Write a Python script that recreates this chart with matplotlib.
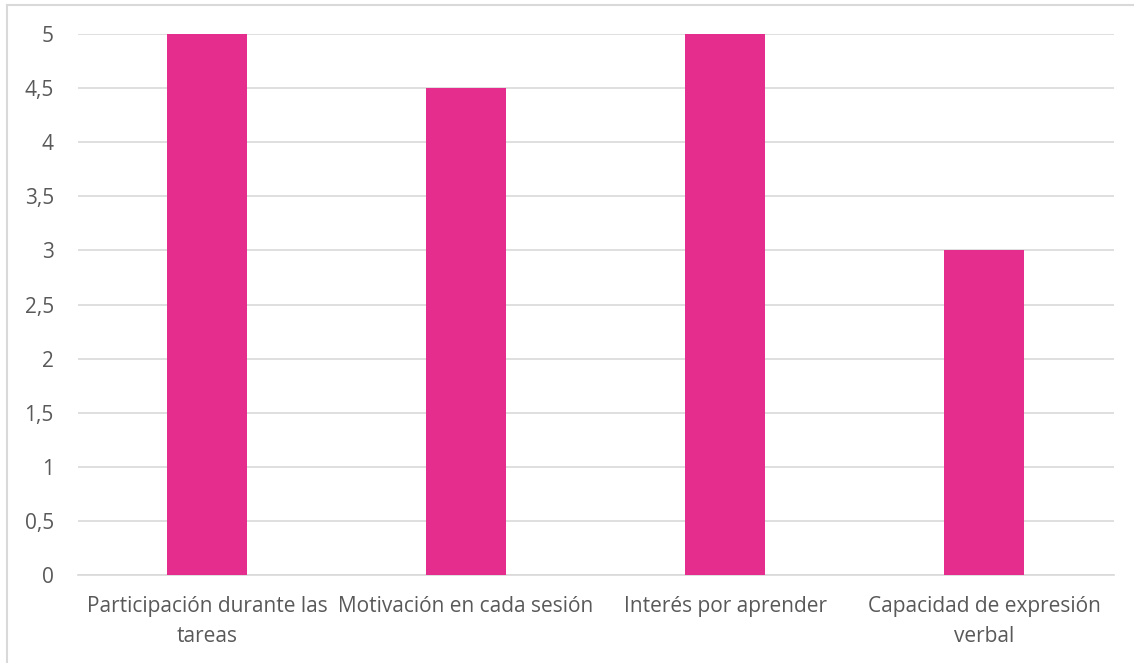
import matplotlib.pyplot as plt
from matplotlib.lines import Line2D

categorias = ['Participación durante las\ntareas', 'Motivación en cada sesión',
              'Interés por aprender', 'Capacidad de expresión\nverbal']
valores = [5, 4.5, 5, 3]
yticks = [0, 0.5, 1, 1.5, 2, 2.5, 3, 3.5, 4, 4.5, 5]
ytick_labels = ['0', '0,5', '1', '1,5', '2', '2,5', '3', '3,5', '4', '4,5', '5']

plt.rcParams['font.family'] = ['Open Sans', 'DejaVu Sans']

fig = plt.figure(figsize=(11.34, 6.63), dpi=100)
ax = fig.add_axes([77.5 / 1134, 1 - 575 / 663, (1113.5 - 77.5) / 1134, (575 - 34) / 663])

x = range(len(categorias))
ax.bar(x, valores, width=0.31, color='#E52D8E', zorder=3)

ax.set_xlim(-0.5, 3.5)
ax.set_ylim(0, 5)
ax.set_yticks(yticks)
ax.set_yticklabels(ytick_labels)
ax.set_xticks(list(x))
ax.set_xticklabels(categorias, linespacing=1.6)

ax.grid(axis='y', color='#D9D9D9', linewidth=1.2, zorder=0)
for s in ['top', 'right', 'left']:
    ax.spines[s].set_visible(False)
ax.spines['bottom'].set_color('#D9D9D9')
ax.spines['bottom'].set_linewidth(1.2)
ax.tick_params(axis='both', length=0, colors='#595959', labelsize=15)
ax.tick_params(axis='y', pad=17)
ax.tick_params(axis='x', pad=15)

# borde del grafico
fig.add_artist(Line2D([7 / 1134, 7 / 1134], [0, 1 - 4.5 / 663], color='#D9D9D9', lw=1.5, transform=fig.transFigure))
fig.add_artist(Line2D([7 / 1134, 1], [1 - 4.5 / 663, 1 - 4.5 / 663], color='#D9D9D9', lw=1.5, transform=fig.transFigure))

fig.savefig('out.png', dpi=100)
